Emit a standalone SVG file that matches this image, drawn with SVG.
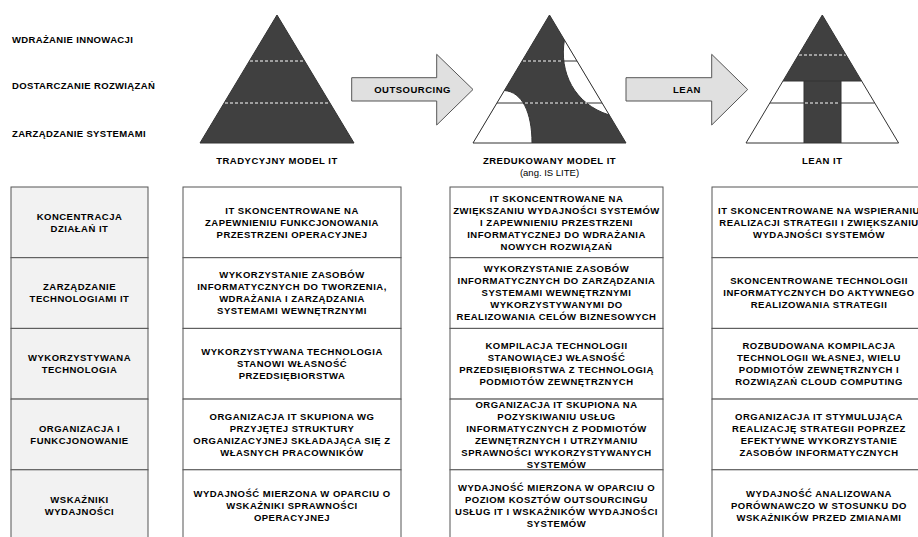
<svg xmlns="http://www.w3.org/2000/svg" width="918" height="537" viewBox="0 0 918 537">
<style>
  text { font-family: "Liberation Sans", Arial, sans-serif; fill: #000000; }
  .lbl { font-size: 9.5px; font-weight: bold; letter-spacing: 0.35px; }
  .cap { font-size: 9.5px; font-weight: bold; letter-spacing: 0.5px; text-anchor: middle; }
  .sub { font-size: 9.5px; text-anchor: middle; }
  .t { font-size: 9.5px; font-weight: bold; letter-spacing: 0.5px; text-anchor: middle; }
  .cellh { fill: #f2f2f2; stroke: #555; stroke-width: 1; }
  .cell { fill: #ffffff; stroke: #555; stroke-width: 1; }
  .dark { fill: #404040; stroke: none; }
  .wfill { fill: #ffffff; stroke: none; }
  .edge { fill: none; stroke: #333; stroke-width: 1; }
  .sline { stroke: #333; stroke-width: 1; fill: none; }
  .dash { stroke: #ffffff; stroke-width: 1; stroke-dasharray: 3 2; fill: none; }
  .arrow { fill: #e0e0e0; stroke: #555; stroke-width: 1; }
</style>

<g id="level-labels">
  <text class="lbl" x="12" y="42.7">WDRAŻANIE INNOWACJI</text>
  <text class="lbl" x="12" y="89.3">DOSTARCZANIE ROZWIĄZAŃ</text>
  <text class="lbl" x="12" y="137.3">ZARZĄDZANIE SYSTEMAMI</text>
</g>

<g id="pyramid-traditional">
  <polygon class="dark" points="277,15 200,143 354,143"/>
  <line class="dash" x1="250" y1="61" x2="304" y2="61"/>
  <line class="dash" x1="225" y1="103" x2="329" y2="103"/>
  <polygon class="edge" points="277,15 200,143 354,143"/>
  <text class="cap" x="277" y="164.3">TRADYCYJNY MODEL IT</text>
</g>

<g id="pyramid-reduced">
  <polygon class="dark" points="549.5,15 473,143 626,143"/>
  <path class="wfill" d="M504.5,90.5 C522,92 532,112 532,143 L473,143 Z"/>
  <path class="wfill" d="M564.4,40 C559,72 574,104 609.3,115 Z"/>
  <path class="sline" d="M504.5,90.5 C522,92 532,112 532,143"/>
  <path class="sline" d="M564.4,40 C559,72 574,104 609.3,115"/>
  <line class="sline" x1="522" y1="61" x2="577" y2="61"/>
  <line class="sline" x1="497" y1="103" x2="602" y2="103"/>
  <line class="dash" x1="523" y1="61" x2="562" y2="61"/>
  <line class="dash" x1="525" y1="103" x2="587" y2="103"/>
  <polygon class="edge" points="549.5,15 473,143 626,143"/>
  <text class="cap" x="549.5" y="164">ZREDUKOWANY MODEL IT</text>
  <text class="sub" x="549.5" y="175.5">(ang. IS LITE)</text>
</g>

<g id="pyramid-lean">
  <polygon class="wfill" points="822.3,15 746,143 898.6,143"/>
  <polygon class="dark" points="822.3,15 783,81 861.6,81"/>
  <rect class="dark" x="804" y="81" width="37" height="62"/>
  <line class="sline" x1="783" y1="81" x2="861.6" y2="81"/>
  <line class="sline" x1="804" y1="81" x2="804" y2="143"/>
  <line class="sline" x1="841" y1="81" x2="841" y2="143"/>
  <line class="sline" x1="770" y1="103" x2="874.6" y2="103"/>
  <line x1="804.5" y1="103" x2="840.5" y2="103" stroke="#404040" stroke-width="1"/>
  <line class="dash" x1="799" y1="55" x2="846" y2="55"/>
  <line class="dash" x1="805" y1="103" x2="840" y2="103"/>
  <polygon class="edge" points="822.3,15 746,143 898.6,143"/>
  <text class="cap" x="822.3" y="163.8">LEAN IT</text>
</g>

<g id="connectors">
  <g id="arrow-outsourcing">
    <polygon class="arrow" points="351.7,77.7 436.7,77.7 436.7,54.3 473,89.5 436.7,125 436.7,101 351.7,101"/>
    <text class="cap" x="412.5" y="92.7">OUTSOURCING</text>
  </g>
  <g id="arrow-lean">
    <polygon class="arrow" points="626,77.7 711.7,77.7 711.7,54.3 747.7,89.5 711.7,125 711.7,101 626,101"/>
    <text class="cap" x="687" y="92.7">LEAN</text>
  </g>
</g>

<g id="col-criteria">
  <rect class="cellh" x="11" y="187" width="137" height="70.7"/>
  <rect class="cellh" x="11" y="257.7" width="137" height="70.7"/>
  <rect class="cellh" x="11" y="328.4" width="137" height="70.7"/>
  <rect class="cellh" x="11" y="399.1" width="137" height="70.7"/>
  <rect class="cellh" x="11" y="469.8" width="137" height="71"/>
  <text class="t" x="79.5" y="219.9">KONCENTRACJA<tspan x="79.5" dy="12">DZIAŁAŃ IT</tspan></text>
  <text class="t" x="79.5" y="290.4">ZARZĄDZANIE<tspan x="79.5" dy="12">TECHNOLOGIAMI IT</tspan></text>
  <text class="t" x="79.5" y="361.2">WYKORZYSTYWANA<tspan x="79.5" dy="12">TECHNOLOGIA</tspan></text>
  <text class="t" x="79.5" y="431.9">ORGANIZACJA I<tspan x="79.5" dy="12">FUNKCJONOWANIE</tspan></text>
  <text class="t" x="79.5" y="502.9">WSKAŹNIKI<tspan x="79.5" dy="12">WYDAJNOŚCI</tspan></text>
</g>

<g id="col-traditional">
  <rect class="cell" x="183" y="187" width="218" height="70.7"/>
  <rect class="cell" x="183" y="257.7" width="218" height="70.7"/>
  <rect class="cell" x="183" y="328.4" width="218" height="70.7"/>
  <rect class="cell" x="183" y="399.1" width="218" height="70.7"/>
  <rect class="cell" x="183" y="469.8" width="218" height="71"/>
  <text class="t" x="292" y="213.9">IT SKONCENTROWANE NA<tspan x="292" dy="12">ZAPEWNIENIU FUNKCJONOWANIA</tspan><tspan x="292" dy="12">PRZESTRZENI OPERACYJNEJ</tspan></text>
  <text class="t" x="292" y="278.4">WYKORZYSTANIE ZASOBÓW<tspan x="292" dy="12">INFORMATYCZNYCH DO TWORZENIA,</tspan><tspan x="292" dy="12">WDRAŻANIA I ZARZĄDZANIA</tspan><tspan x="292" dy="12">SYSTEMAMI WEWNĘTRZNYMI</tspan></text>
  <text class="t" x="292" y="355.2">WYKORZYSTYWANA TECHNOLOGIA<tspan x="292" dy="12">STANOWI WŁASNOŚĆ</tspan><tspan x="292" dy="12">PRZEDSIĘBIORSTWA</tspan></text>
  <text class="t" x="292" y="419.9">ORGANIZACJA IT SKUPIONA WG<tspan x="292" dy="12">PRZYJĘTEJ STRUKTURY</tspan><tspan x="292" dy="12">ORGANIZACYJNEJ SKŁADAJĄCA SIĘ Z</tspan><tspan x="292" dy="12">WŁASNYCH PRACOWNIKÓW</tspan></text>
  <text class="t" x="292" y="496.9">WYDAJNOŚĆ MIERZONA W OPARCIU O<tspan x="292" dy="12">WSKAŹNIKI SPRAWNOŚCI</tspan><tspan x="292" dy="12">OPERACYJNEJ</tspan></text>
</g>

<g id="col-reduced">
  <rect class="cell" x="450" y="187" width="213" height="70.7"/>
  <rect class="cell" x="450" y="257.7" width="213" height="70.7"/>
  <rect class="cell" x="450" y="328.4" width="213" height="70.7"/>
  <rect class="cell" x="450" y="399.1" width="213" height="70.7"/>
  <rect class="cell" x="450" y="469.8" width="213" height="71"/>
  <text class="t" x="556.5" y="201.9">IT SKONCENTROWANE NA<tspan x="556.5" dy="12">ZWIĘKSZANIU WYDAJNOŚCI SYSTEMÓW</tspan><tspan x="556.5" dy="12">I ZAPEWNIENIU PRZESTRZENI</tspan><tspan x="556.5" dy="12">INFORMATYCZNEJ DO WDRAŻANIA</tspan><tspan x="556.5" dy="12">NOWYCH ROZWIĄZAŃ</tspan></text>
  <text class="t" x="556.5" y="272.4">WYKORZYSTANIE ZASOBÓW<tspan x="556.5" dy="12">INFORMATYCZNYCH DO ZARZĄDZANIA</tspan><tspan x="556.5" dy="12">SYSTEMAMI WEWNĘTRZNYMI</tspan><tspan x="556.5" dy="12">WYKORZYSTYWANYMI DO</tspan><tspan x="556.5" dy="12">REALIZOWANIA CELÓW BIZNESOWYCH</tspan></text>
  <text class="t" x="556.5" y="349.2">KOMPILACJA TECHNOLOGII<tspan x="556.5" dy="12">STANOWIĄCEJ WŁASNOŚĆ</tspan><tspan x="556.5" dy="12">PRZEDSIĘBIORSTWA Z TECHNOLOGIĄ</tspan><tspan x="556.5" dy="12">PODMIOTÓW ZEWNĘTRZNYCH</tspan></text>
  <text class="t" x="556.5" y="407.9">ORGANIZACJA IT SKUPIONA NA<tspan x="556.5" dy="12">POZYSKIWANIU USŁUG</tspan><tspan x="556.5" dy="12">INFORMATYCZNYCH Z PODMIOTÓW</tspan><tspan x="556.5" dy="12">ZEWNĘTRZNYCH I UTRZYMANIU</tspan><tspan x="556.5" dy="12">SPRAWNOŚCI WYKORZYSTYWANYCH</tspan><tspan x="556.5" dy="12">SYSTEMÓW</tspan></text>
  <text class="t" x="556.5" y="490.9">WYDAJNOŚĆ MIERZONA W OPARCIU O<tspan x="556.5" dy="12">POZIOM KOSZTÓW OUTSOURCINGU</tspan><tspan x="556.5" dy="12">USŁUG IT I WSKAŹNIKÓW WYDAJNOŚCI</tspan><tspan x="556.5" dy="12">SYSTEMÓW</tspan></text>
</g>

<g id="col-lean">
  <rect class="cell" x="712" y="187" width="220" height="70.7"/>
  <rect class="cell" x="712" y="257.7" width="220" height="70.7"/>
  <rect class="cell" x="712" y="328.4" width="220" height="70.7"/>
  <rect class="cell" x="712" y="399.1" width="220" height="70.7"/>
  <rect class="cell" x="712" y="469.8" width="220" height="71"/>
  <text class="t" x="819" y="213.9">IT SKONCENTROWANE NA WSPIERANIU<tspan x="819" dy="12">REALIZACJI STRATEGII I ZWIĘKSZANIU</tspan><tspan x="819" dy="12">WYDAJNOŚCI SYSTEMÓW</tspan></text>
  <text class="t" x="819" y="284.4">SKONCENTROWANE TECHNOLOGII<tspan x="819" dy="12">INFORMATYCZNYCH DO AKTYWNEGO</tspan><tspan x="819" dy="12">REALIZOWANIA STRATEGII</tspan></text>
  <text class="t" x="819" y="349.2">ROZBUDOWANA KOMPILACJA<tspan x="819" dy="12">TECHNOLOGII WŁASNEJ, WIELU</tspan><tspan x="819" dy="12">PODMIOTÓW ZEWNĘTRZNYCH I</tspan><tspan x="819" dy="12">ROZWIĄZAŃ CLOUD COMPUTING</tspan></text>
  <text class="t" x="819" y="419.9">ORGANIZACJA IT STYMULUJĄCA<tspan x="819" dy="12">REALIZACJĘ STRATEGII POPRZEZ</tspan><tspan x="819" dy="12">EFEKTYWNE WYKORZYSTANIE</tspan><tspan x="819" dy="12">ZASOBÓW INFORMATYCZNYCH</tspan></text>
  <text class="t" x="819" y="496.9">WYDAJNOŚĆ ANALIZOWANA<tspan x="819" dy="12">PORÓWNAWCZO W STOSUNKU DO</tspan><tspan x="819" dy="12">WSKAŹNIKÓW PRZED ZMIANAMI</tspan></text>
</g>
</svg>
